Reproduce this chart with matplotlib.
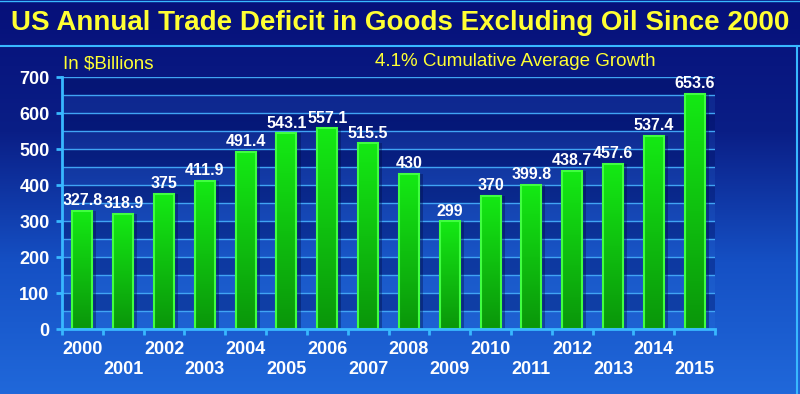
import numpy as np
import matplotlib
matplotlib.use("Agg")
import matplotlib.pyplot as plt
from matplotlib.colors import LinearSegmentedColormap
from matplotlib.lines import Line2D

plt.rcParams['font.family'] = ['Liberation Sans', 'DejaVu Sans']

# data
years = list(range(2000, 2016))
deficit = [327.8, 318.9, 375, 411.9, 491.4, 543.1, 557.1, 515.5,
           430, 299, 370, 399.8, 438.7, 457.6, 537.4, 653.6]
title = "US Annual Trade Deficit in Goods Excluding Oil Since 2000"
unit_note = "In $Billions"
growth_note = "4.1% Cumulative Average Growth"

cyan = '#38b8ff'
yellow = '#ffff33'

fig = plt.figure(figsize=(8, 3.94), dpi=100)

# background gradient over the whole figure
bg = fig.add_axes([0, 0, 1, 1], zorder=-10)
bg_cmap = LinearSegmentedColormap.from_list('bg', ['#06107a', '#0a1e86', '#1550c4', '#2068da'])
bg.imshow(np.linspace(0, 1, 256).reshape(-1, 1), aspect='auto', cmap=bg_cmap,
          extent=[0, 1, 0, 1], origin='upper')
bg.set_axis_off()

# frame lines
fig.add_artist(Line2D([0, 1], [1 - 46 / 394] * 2, color=cyan, lw=1.5, transform=fig.transFigure))
fig.add_artist(Line2D([0, 1], [0.998] * 2, color=cyan, lw=1, transform=fig.transFigure))
fig.add_artist(Line2D([797 / 800] * 2, [0, 1 - 46 / 394], color=cyan, lw=1.5, transform=fig.transFigure))

fig.text(0.5, 1 - 23 / 394, title, color=yellow, fontsize=20, fontweight='bold',
         ha='center', va='center')
fig.text(63 / 800, 1 - 64 / 394, unit_note, color=yellow, fontsize=13.5, ha='left', va='center')
fig.text(375 / 800, 1 - 62 / 394, growth_note, color=yellow, fontsize=13.5, ha='left', va='center')

ax = fig.add_axes([62 / 800, 65 / 394, (715 - 62) / 800, (329 - 77) / 394])
ax.patch.set_alpha(0)

# alternating bands + gridlines every 50
for lo in range(0, 700, 50):
    if (lo // 50) % 2 == 1:
        ax.axhspan(lo, lo + 50, color='#001060', alpha=0.35, lw=0, zorder=0)
    else:
        ax.axhspan(lo, lo + 50, color='#3a90f0', alpha=0.12, lw=0, zorder=0)
    if lo > 0:
        ax.axhline(lo, color='#40a4f4', lw=1, zorder=1)
ax.axhline(700, color='#40a4f4', lw=1, zorder=1)

x = np.arange(len(years))
# shadows
ax.bar(x + 0.1, deficit, width=0.49, color='#000a40', alpha=0.35, lw=0, zorder=2)
bars = ax.bar(x, deficit, width=0.49, color='none', edgecolor='#40ff40', lw=1.5, zorder=4)
green = LinearSegmentedColormap.from_list('g', ['#14ea14', '#0a960a'])
grad = np.linspace(0, 1, 128).reshape(-1, 1)
for b in bars:
    bx, bw, bh = b.get_x(), b.get_width(), b.get_height()
    im = ax.imshow(grad, aspect='auto', cmap=green, origin='upper',
                   extent=[bx, bx + bw, 0, bh], zorder=3)
    im.set_clip_path(b)
    ax.annotate(f'{b.get_height():g}', (bx + bw / 2, bh), xytext=(0, 2),
                textcoords='offset points', ha='center', va='bottom',
                color='white', fontsize=11.5, fontweight='bold', zorder=5)
ax.set_xlim(-0.5, 15.5)
ax.set_ylim(0, 700)

for side in ['top', 'right']:
    ax.spines[side].set_visible(False)
for side in ['left', 'bottom']:
    ax.spines[side].set_color(cyan)
    ax.spines[side].set_linewidth(2)
    ax.spines[side].set_zorder(6)

ax.set_yticks(range(0, 701, 100))
ax.tick_params(axis='y', colors=cyan, length=4, width=2, pad=5, labelcolor='white', labelsize=13)
for t in ax.get_yticklabels():
    t.set_fontweight('bold')

ax.set_xticks(x)
ax.set_xticklabels([str(y) if i % 2 == 0 else '\n' + str(y) for i, y in enumerate(years)])
ax.set_xticks(np.arange(-0.5, 16, 1), minor=True)
ax.tick_params(axis='x', which='major', length=0, pad=9, labelcolor='white', labelsize=13)
ax.tick_params(axis='x', which='minor', length=4, width=2, color=cyan)
for t in ax.get_xticklabels():
    t.set_fontweight('bold')
    t.set_linespacing(1.2)

fig.savefig('out.png', dpi=100)
